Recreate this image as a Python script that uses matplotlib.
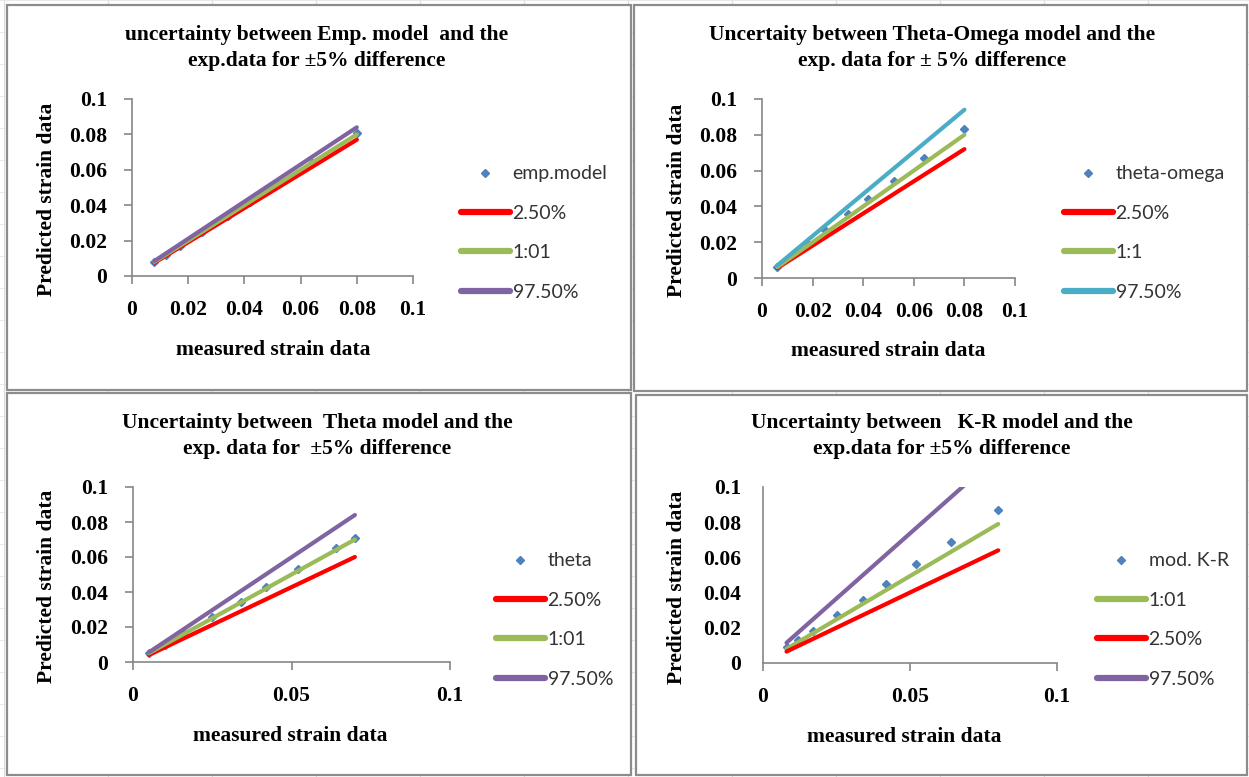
import matplotlib.pyplot as plt
from matplotlib.patches import Rectangle

# Panel data

emp_x = [0.008, 0.012, 0.017, 0.025, 0.034, 0.042, 0.052, 0.064, 0.080]
emp_y = [0.008, 0.012, 0.017, 0.025, 0.034, 0.042, 0.052, 0.064, 0.081]
emp_line_x = [0.008, 0.080]
emp_low = [0.0075, 0.077]
emp_mid = [0.008, 0.080]
emp_high = [0.0085, 0.084]

to_x = [0.006, 0.012, 0.018, 0.025, 0.034, 0.042, 0.052, 0.064, 0.080]
to_y = [0.006, 0.013, 0.019, 0.027, 0.036, 0.044, 0.054, 0.067, 0.083]
to_line_x = [0.006, 0.080]
to_low = [0.0055, 0.072]
to_mid = [0.006, 0.080]
to_high = [0.007, 0.094]

th_x = [0.005, 0.010, 0.016, 0.025, 0.034, 0.042, 0.052, 0.064, 0.070]
th_y = [0.005, 0.010, 0.016, 0.0255, 0.0345, 0.043, 0.053, 0.065, 0.071]
th_line_x = [0.005, 0.070]
th_low = [0.004, 0.060]
th_mid = [0.005, 0.070]
th_high = [0.0055, 0.084]

kr_x = [0.008, 0.012, 0.017, 0.025, 0.034, 0.042, 0.052, 0.064, 0.080]
kr_y = [0.009, 0.013, 0.018, 0.027, 0.036, 0.045, 0.056, 0.069, 0.087]
kr_line_x = [0.008, 0.080]
kr_mid = [0.008, 0.079]
kr_low = [0.0065, 0.064]
kr_high = [0.0115, 0.118]

RED = "#FF0000"
GREEN = "#9BBB59"
PURPLE = "#8064A2"
CYAN = "#4BACC6"
BLUE = "#4F81BD"

SERIF = "Liberation Serif"
SANS = ["Lato", "DejaVu Sans"]

W, H = 1249, 777
fig = plt.figure(figsize=(W / 100, H / 100), dpi=100)


def fx(px):
    return px / W


def fy(py):
    return 1 - py / H


# faint spreadsheet grid behind the charts
for gx in range(4, W, 104):
    fig.add_artist(plt.Line2D([fx(gx), fx(gx)], [0, 1], color="#DADCDD", lw=0.8, zorder=0))
for gy in range(0, H, 32):
    fig.add_artist(plt.Line2D([0, 1], [fy(gy), fy(gy)], color="#E6E8E9", lw=0.8, zorder=0))

# chart area frames: (left, top, right, bottom) in pixels
frames = [(7, 5, 631, 390), (634, 5, 1247, 391), (7, 393, 631, 775), (636, 395, 1247, 775)]
for l, t, r, b in frames:
    fig.add_artist(Rectangle((fx(l), fy(b)), fx(r - l), (b - t) / H,
                             facecolor="white", edgecolor="#8C8C8C", lw=1.6, zorder=1))


def make_panel(rect, title, title_xy, xticks, xticklabels, xlabel_xy, ylabel_x,
               series, leg_xy, ytick_len=6):
    l, t, r, b = rect
    ax = fig.add_axes([fx(l), fy(b), fx(r - l), (b - t) / H])
    ax.set_zorder(2)
    ax.patch.set_alpha(0)

    for kind, xs, ys, color, label in series:
        if kind == "pts":
            ax.plot(xs, ys, linestyle="none", marker="D", markersize=4.5,
                    color=BLUE, label=label, clip_on=False)
        else:
            ax.plot(xs, ys, color=color, lw=3.0, label=label,
                    solid_capstyle="round")

    ax.set_xlim(0, 0.1)
    ax.set_ylim(0, 0.1)
    ax.set_xticks(xticks)
    ax.set_xticklabels(xticklabels)
    ax.set_yticks([0, 0.02, 0.04, 0.06, 0.08, 0.1])
    ax.set_yticklabels(["0", "0.02", "0.04", "0.06", "0.08", "0.1"])

    for side in ["top", "right"]:
        ax.spines[side].set_visible(False)
    for side in ["left", "bottom"]:
        ax.spines[side].set_color("#868686")
        ax.spines[side].set_linewidth(1.2)

    ax.tick_params(axis="both", direction="out", length=6, width=1.2,
                   color="#868686", labelsize=15.5)
    ax.tick_params(axis="x", pad=11)
    ax.tick_params(axis="y", length=ytick_len, pad=16 - ytick_len * 0.72)
    for lab in ax.get_xticklabels() + ax.get_yticklabels():
        lab.set_fontfamily(SERIF)
        lab.set_fontweight("bold")

    fig.text(fx(title_xy[0]), fy(title_xy[1]), title, ha="center", va="center",
             fontsize=15.5, fontweight="bold", family=SERIF, linespacing=1.45)
    fig.text(fx(xlabel_xy[0]), fy(xlabel_xy[1]), "measured strain data",
             ha="center", va="center", fontsize=15.5, fontweight="bold", family=SERIF)
    fig.text(fx(ylabel_x), fy((t + b) / 2 + 12), "Predicted strain data",
             ha="center", va="center", rotation=90, fontsize=15.5,
             fontweight="bold", family=SERIF)

    leg = ax.legend(loc="center left", bbox_to_anchor=(fx(leg_xy[0]), fy(leg_xy[1])),
                    bbox_transform=fig.transFigure, frameon=False,
                    prop={"family": SANS, "size": 14}, handlelength=2.5,
                    handletextpad=0.15, labelspacing=1.15, borderpad=0,
                    borderaxespad=0)
    for h in leg.legend_handles:
        if h.get_linestyle() != "None":
            h.set_linewidth(4.5)
    for txt in leg.get_texts():
        txt.set_color("#333333")
    return ax


make_panel(
    (132, 99, 413, 276),
    "uncertainty between Emp. model  and the\nexp.data for ±5% difference",
    (317, 48), [0, 0.02, 0.04, 0.06, 0.08, 0.1],
    ["0", "0.02", "0.04", "0.06", "0.08", "0.1"],
    (273, 350), 47,
    [("pts", emp_x, emp_y, BLUE, "emp.model"),
     ("line", emp_line_x, emp_low, RED, "2.50%"),
     ("line", emp_line_x, emp_mid, GREEN, "1:01"),
     ("line", emp_line_x, emp_high, PURPLE, "97.50%")],
    (461, 233),
)

make_panel(
    (762, 99, 1015, 278),
    "Uncertaity between Theta-Omega model and the\nexp. data for ± 5% difference",
    (932, 48), [0, 0.02, 0.04, 0.06, 0.08, 0.1],
    ["0", "0.02", "0.04", "0.06", "0.08", "0.1"],
    (888, 351), 677,
    [("pts", to_x, to_y, BLUE, "theta-omega"),
     ("line", to_line_x, to_low, RED, "2.50%"),
     ("line", to_line_x, to_mid, GREEN, "1:1"),
     ("line", to_line_x, to_high, CYAN, "97.50%")],
    (1064, 233),
)

make_panel(
    (133, 487, 450, 662),
    "Uncertainty between  Theta model and the\nexp. data for  ±5% difference",
    (317, 436), [0, 0.05, 0.1], ["0", "0.05", "0.1"],
    (290, 736), 47,
    [("pts", th_x, th_y, BLUE, "theta"),
     ("line", th_line_x, th_low, RED, "2.50%"),
     ("line", th_line_x, th_mid, GREEN, "1:01"),
     ("line", th_line_x, th_high, PURPLE, "97.50%")],
    (496, 620),
)

make_panel(
    (763, 487, 1057, 663),
    "Uncertainty between   K-R model and the\nexp.data for ±5% difference",
    (942, 436), [0, 0.05, 0.1], ["0", "0.05", "0.1"],
    (904, 737), 677,
    [("pts", kr_x, kr_y, BLUE, "mod. K-R"),
     ("line", kr_line_x, kr_mid, GREEN, "1:01"),
     ("line", kr_line_x, kr_low, RED, "2.50%"),
     ("line", kr_line_x, kr_high, PURPLE, "97.50%")],
    (1097, 620),
    ytick_len=0,
)

fig.savefig("out.png", dpi=100)
